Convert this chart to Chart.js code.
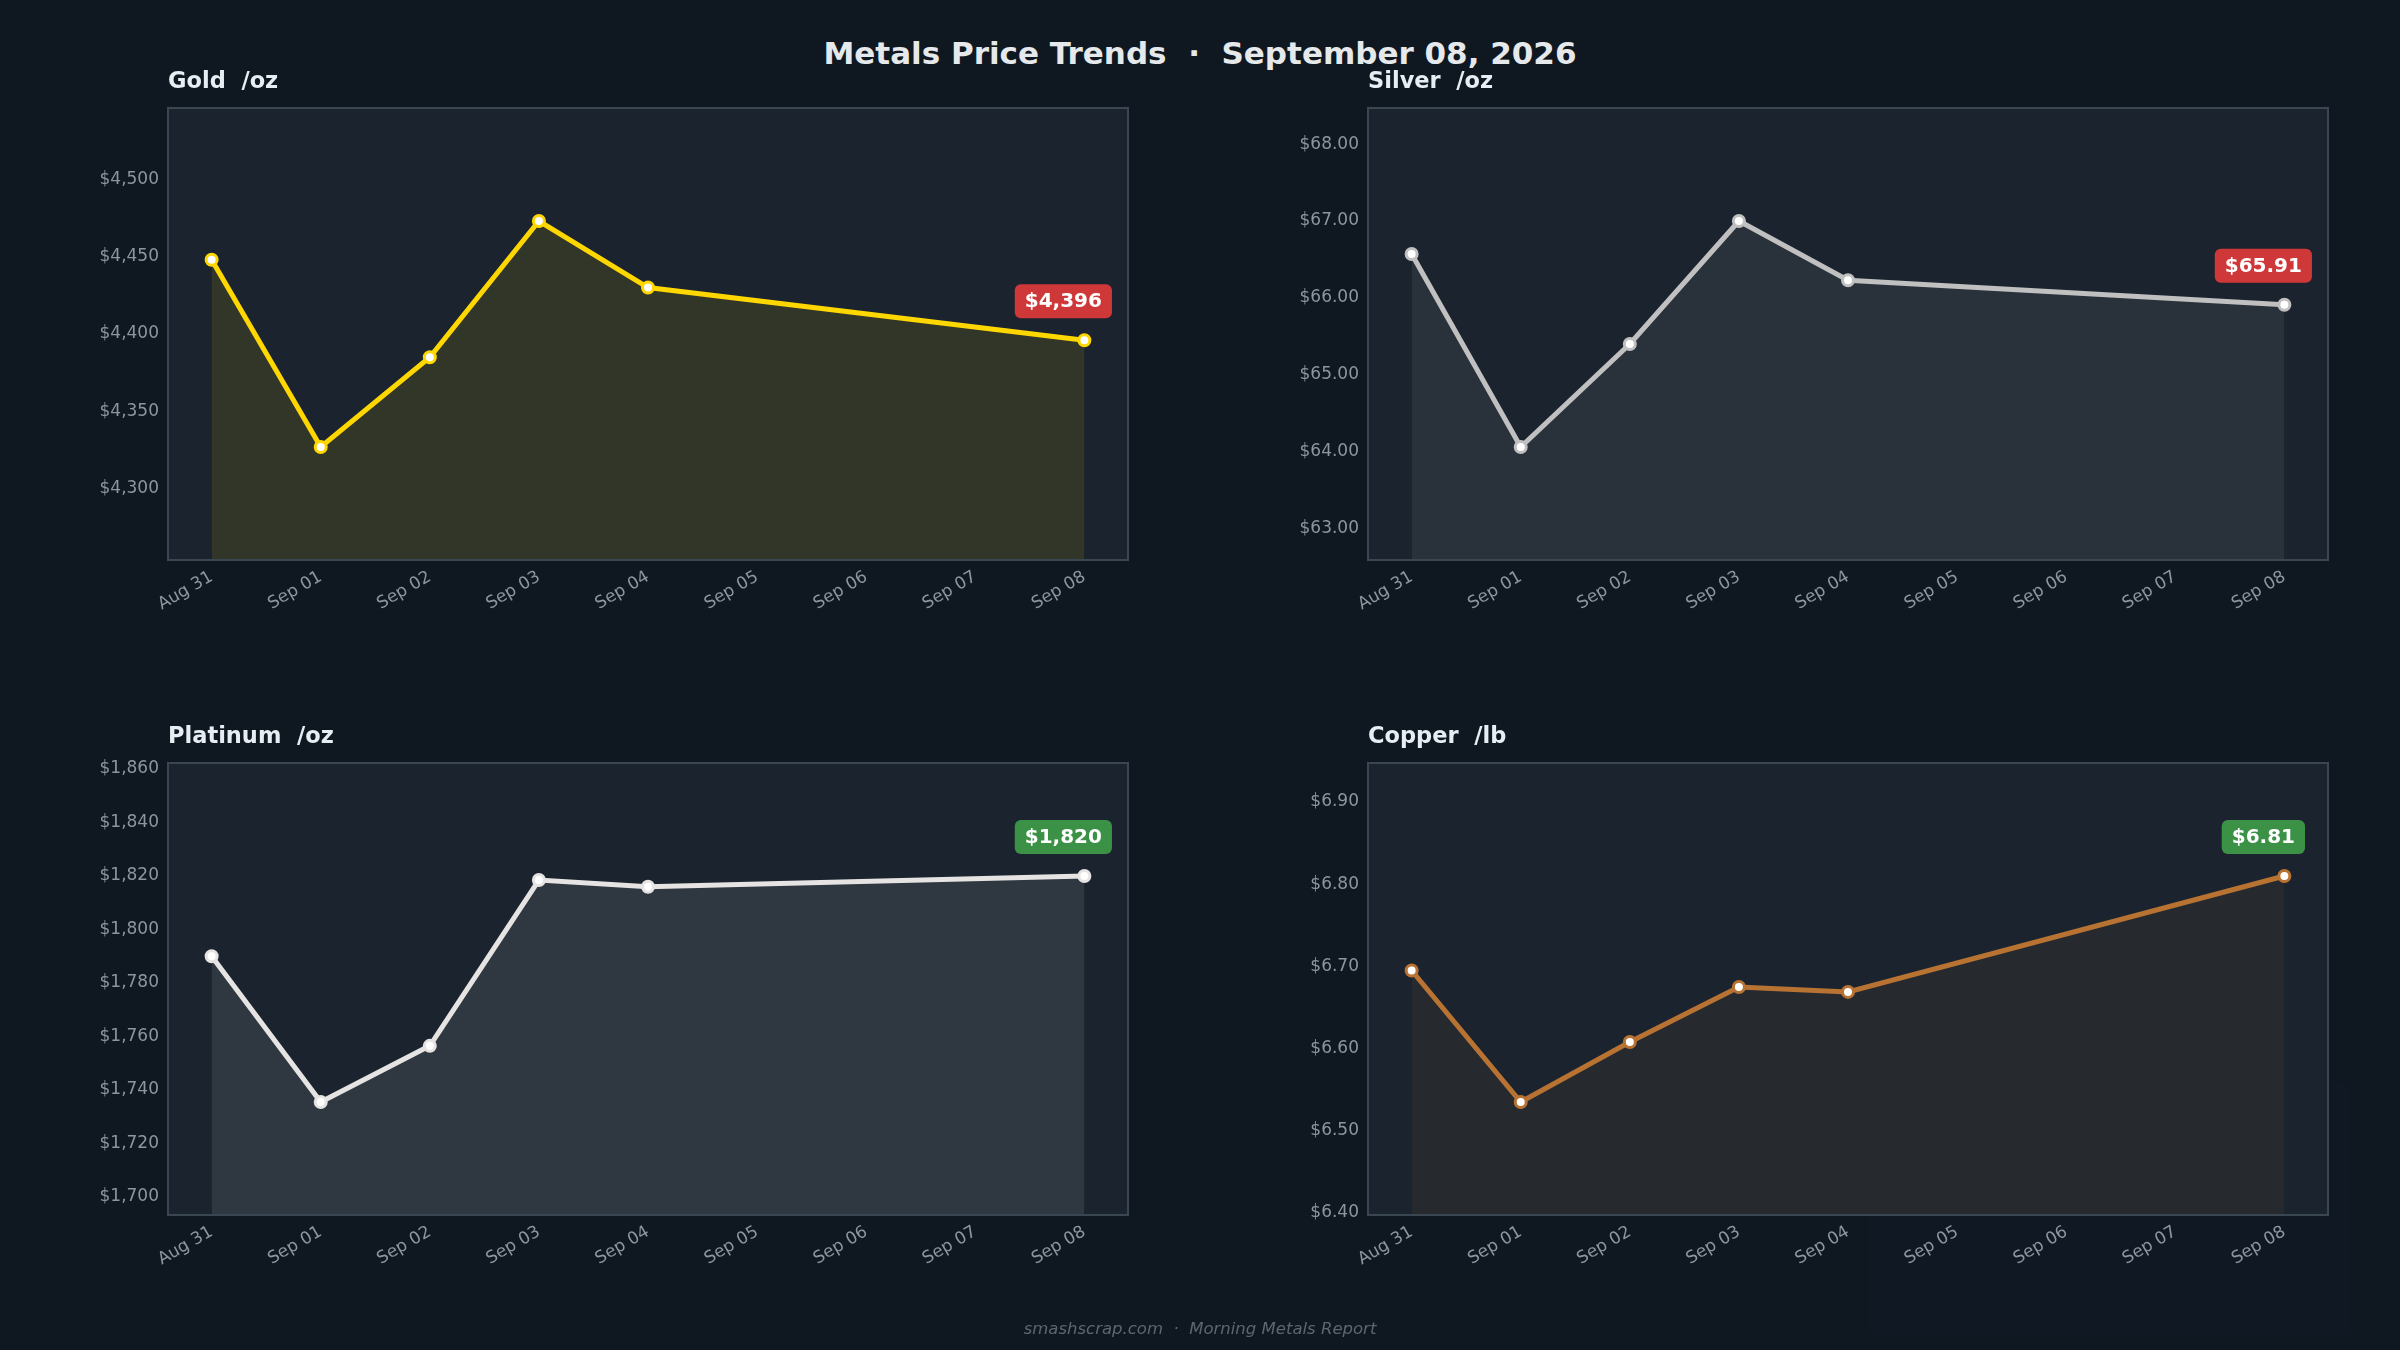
<!DOCTYPE html>
<html>
<head>
<meta charset="utf-8">
<title>Metals Price Trends</title>
<script src="https://cdn.jsdelivr.net/npm/chart.js@4.4.1/dist/chart.umd.min.js"></script>
<style>
	html, body { margin: 0; padding: 0; background: #0f1720; }
	#page { position: relative; width: 2400px; height: 1350px; background: #0f1720; font-family: "DejaVu Sans", sans-serif; overflow: hidden; }
	#title { position: absolute; left: 0; top: 38px; width: 2400px; text-align: center; color: #e6e9ec; font-weight: bold; font-size: 31px; line-height: 31px; white-space: pre; }
	#footer { position: absolute; left: 0; top: 1321px; width: 2400px; text-align: center; color: #5c6670; font-style: italic; font-size: 16.5px; line-height: 16.5px; white-space: pre; }
	#ghost { position: absolute; left: 1870px; top: 1083px; width: 480px; height: 252px; background: #101923; }
	canvas { position: absolute; }
</style>
</head>
<body>
<div id="page">
	<div id="ghost"></div>
	<div id="title">Metals Price Trends  ·  September 08, 2026</div>
	<canvas id="gold" width="1200" height="675" style="left:0px;top:0px"></canvas>
	<canvas id="silver" width="1200" height="675" style="left:1200px;top:0px"></canvas>
	<canvas id="platinum" width="1200" height="675" style="left:0px;top:675px"></canvas>
	<canvas id="copper" width="1200" height="675" style="left:1200px;top:675px"></canvas>
	<div id="footer">smashscrap.com  ·  Morning Metals Report</div>
</div>
<script>
// days on the x axis (no quotes Sep 05-07)
var dayLabels = ['Aug 31', 'Sep 01', 'Sep 02', 'Sep 03', 'Sep 04', 'Sep 05', 'Sep 06', 'Sep 07', 'Sep 08'];

var goldPrices = [4448, 4327, 4385, 4473, 4430, null, null, null, 4396];
var silverPrices = [66.57, 64.06, 65.40, 67.00, 66.23, null, null, null, 65.91];
var platinumPrices = [1790, 1735.5, 1756.5, 1818.5, 1816, null, null, null, 1820];
var copperPrices = [6.695, 6.535, 6.608, 6.675, 6.669, null, null, null, 6.81];

var goldTicks = 50;
var silverTicks = 1;
var platinumTicks = 20;
var copperTicks = 0.1;

Chart.defaults.font.family = "'DejaVu Sans', sans-serif";

function money0(v) {
	return '$' + Math.round(v).toLocaleString('en-US');
}
function money2(v) {
	return '$' + Number(v).toFixed(2);
}

// title + price formatter per canvas
var panelInfo = {};

var panelPlugin = {
	id: 'panel',
	beforeDraw: function(chart) {
		var a = chart.chartArea;
		var ctx = chart.ctx;
		var info = panelInfo[chart.canvas.id];
		ctx.save();
		ctx.fillStyle = '#1b242e';
		ctx.fillRect(a.left, a.top, a.right - a.left, a.bottom - a.top);
		ctx.fillStyle = '#e6edf3';
		ctx.font = "bold 22.5px 'DejaVu Sans'";
		ctx.textAlign = 'left';
		ctx.textBaseline = 'alphabetic';
		ctx.fillText(info.title, a.left, a.top - 20);
		ctx.restore();
	},
	afterDraw: function(chart) {
		var a = chart.chartArea;
		var ctx = chart.ctx;
		var info = panelInfo[chart.canvas.id];
		ctx.save();
		ctx.strokeStyle = '#3a4652';
		ctx.lineWidth = 2;
		ctx.strokeRect(a.left, a.top, a.right - a.left, a.bottom - a.top);

		// badge with last price
		var pts = chart.getDatasetMeta(0).data;
		var last = pts[pts.length - 1];
		var vals = chart.data.datasets[0].data;
		var lastVal = vals[vals.length - 1].y;
		var prevVal = vals[vals.length - 2].y;
		var txt = info.fmt(lastVal);
		ctx.font = "bold 20px 'DejaVu Sans'";
		var w = ctx.measureText(txt).width + 20;
		var h = 34;
		var cx = last.x - 21;
		var cy = last.y - 39;
		ctx.fillStyle = lastVal >= prevVal ? '#3b9146' : '#cf3838';
		ctx.beginPath();
		ctx.roundRect(cx - w / 2, cy - h / 2, w, h, 6);
		ctx.fill();
		ctx.fillStyle = '#ffffff';
		ctx.textAlign = 'center';
		ctx.textBaseline = 'middle';
		ctx.fillText(txt, cx, cy + 1);
		ctx.restore();
	}
};

function makePanel(id, title, prices, color, fill, step, fmt, row) {
	panelInfo[id] = { title: title, fmt: fmt };

	var points = [];
	for (var i = 0; i < prices.length; i++) {
		if (prices[i] !== null) {
			points.push({ x: i, y: prices[i] });
		}
	}
	var ys = points.map(function(p) { return p.y; });
	var lo = Math.min.apply(null, ys);
	var hi = Math.max.apply(null, ys);
	var pad = (hi - lo) * 0.5;

	var padTop = row == 0 ? 108 : 88;
	var padBottom = row == 0 ? 15 : 35;

	return new Chart(document.getElementById(id), {
		type: 'line',
		data: {
			datasets: [
				{
					data: points,
					borderColor: color,
					borderWidth: 5,
					backgroundColor: fill,
					fill: 'start',
					tension: 0,
					pointRadius: 5.5,
					pointBorderWidth: 3,
					pointBackgroundColor: '#ffffff',
					pointBorderColor: color
				}
			]
		},
		options: {
			responsive: false,
			animation: false,
			layout: { padding: { top: padTop, right: 72, bottom: padBottom, left: 0 } },
			plugins: {
				legend: { display: false },
				tooltip: { enabled: false }
			},
			scales: {
				x: {
					type: 'linear',
					min: -0.4,
					max: 8.4,
					grid: { display: false, drawTicks: false },
					border: { display: false },
					ticks: {
						stepSize: 1,
						includeBounds: false,
						autoSkip: false,
						minRotation: 30,
						maxRotation: 30,
						padding: 7,
						color: '#8c96a1',
						font: { size: 17 },
						callback: function(v) { return dayLabels[v]; }
					},
					afterFit: function(s) { s.height = 100; }
				},
				y: {
					min: lo - pad,
					max: hi + pad,
					grid: { display: false, drawTicks: false },
					border: { display: false },
					ticks: {
						stepSize: step,
						includeBounds: false,
						padding: 9,
						color: '#8c96a1',
						font: { size: 17 },
						callback: function(v) { return fmt(v); }
					},
					afterFit: function(s) { s.width = 168; }
				}
			}
		},
		plugins: [panelPlugin]
	});
}

makePanel('gold', 'Gold  /oz', goldPrices, '#FFD700', 'rgba(255, 215, 0, 0.10)', goldTicks, money0, 0);
makePanel('silver', 'Silver  /oz', silverPrices, '#C0C0C0', 'rgba(192, 192, 192, 0.09)', silverTicks, money2, 0);
makePanel('platinum', 'Platinum  /oz', platinumPrices, '#E5E4E2', 'rgba(229, 228, 226, 0.10)', platinumTicks, money0, 1);
makePanel('copper', 'Copper  /lb', copperPrices, '#B87333', 'rgba(184, 115, 51, 0.08)', copperTicks, money2, 1);
</script>
</body>
</html>
